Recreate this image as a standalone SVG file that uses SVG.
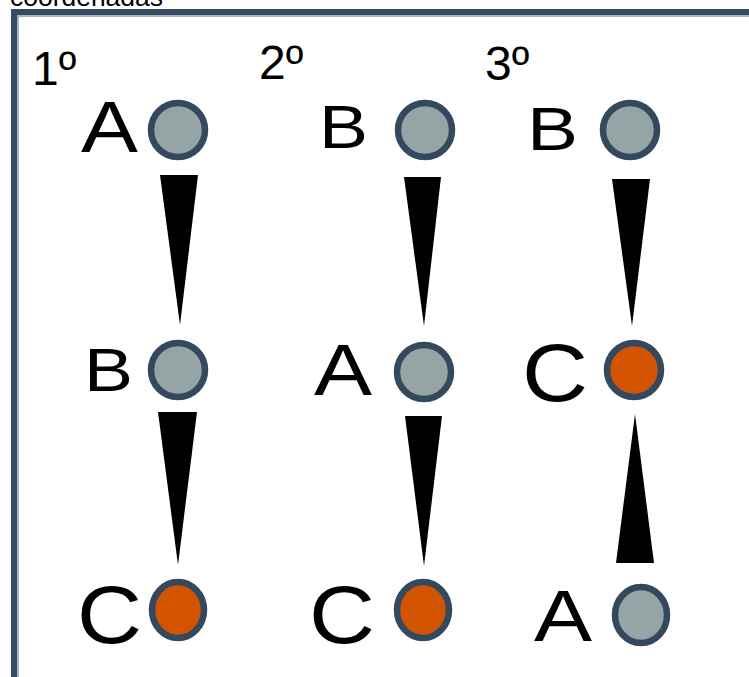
<svg xmlns="http://www.w3.org/2000/svg" width="749" height="677" viewBox="0 0 749 677">
  <style>
    .lbl { font-family: "Liberation Sans", Arial, sans-serif; fill: #000; }
    .gray { fill: #95a5a6; stroke: #34495e; stroke-width: 6.5; }
    .orange { fill: #d35400; stroke: #34495e; stroke-width: 6.5; }
    .edge { fill: #000; stroke: none; }
  </style>

  <rect x="0" y="0" width="749" height="677" fill="#ffffff"/>

  <!-- caption above the frame, partly hidden by the top edge -->
  <text class="lbl" x="10" y="6" font-size="26" textLength="153" lengthAdjust="spacingAndGlyphs">coordenadas</text>

  <!-- frame -->
  <g id="frame">
    <rect x="14" y="12" width="760" height="700" fill="none" stroke="#364b62" stroke-width="6"/>
    <rect x="18" y="16" width="760" height="700" fill="none" stroke="#a9b3c0" stroke-width="2"/>
  </g>

  <!-- step headings -->
  <g id="headings">
    <text class="lbl" x="32" y="85" font-size="48">1º</text>
    <text class="lbl" x="259" y="79" font-size="48">2º</text>
    <text class="lbl" x="485" y="80" font-size="48">3º</text>
  </g>

  <!-- connectors -->
  <g id="connectors">
    <polygon class="edge" points="160,175 198,175 180,325"/>
    <polygon class="edge" points="158,412 197,412 178,565"/>
    <polygon class="edge" points="404,177 441,177 424,326"/>
    <polygon class="edge" points="405,416 442,416 424,566"/>
    <polygon class="edge" points="612,179 650,179 632,326"/>
    <polygon class="edge" points="616,563 654,563 635,414"/>
  </g>

  <!-- column 1 -->
  <g id="c1-A">
    <text class="lbl" x="81" y="152" font-size="73" textLength="57" lengthAdjust="spacingAndGlyphs">A</text>
    <circle class="gray" cx="178" cy="130" r="27"/>
  </g>
  <g id="c1-B">
    <text class="lbl" x="84" y="391" font-size="62" textLength="49" lengthAdjust="spacingAndGlyphs">B</text>
    <circle class="gray" cx="178" cy="370" r="27"/>
  </g>
  <g id="c1-C">
    <text class="lbl" x="77" y="643" font-size="82" textLength="65" lengthAdjust="spacingAndGlyphs">C</text>
    <ellipse class="orange" cx="178" cy="610" rx="26" ry="28"/>
  </g>

  <!-- column 2 -->
  <g id="c2-B">
    <text class="lbl" x="319" y="148" font-size="62" textLength="49" lengthAdjust="spacingAndGlyphs">B</text>
    <circle class="gray" cx="425" cy="130" r="27"/>
  </g>
  <g id="c2-A">
    <text class="lbl" x="314" y="395" font-size="72" textLength="58" lengthAdjust="spacingAndGlyphs">A</text>
    <circle class="gray" cx="424" cy="372" r="27"/>
  </g>
  <g id="c2-C">
    <text class="lbl" x="309" y="643" font-size="82" textLength="66" lengthAdjust="spacingAndGlyphs">C</text>
    <ellipse class="orange" cx="423" cy="610" rx="26" ry="28"/>
  </g>

  <!-- column 3 -->
  <g id="c3-B">
    <text class="lbl" x="527" y="150" font-size="62" textLength="51" lengthAdjust="spacingAndGlyphs">B</text>
    <circle class="gray" cx="630" cy="130" r="27"/>
  </g>
  <g id="c3-C">
    <text class="lbl" x="522" y="401" font-size="82" textLength="66" lengthAdjust="spacingAndGlyphs">C</text>
    <circle class="orange" cx="634" cy="370" r="27"/>
  </g>
  <g id="c3-A">
    <text class="lbl" x="534" y="641" font-size="72" textLength="58" lengthAdjust="spacingAndGlyphs">A</text>
    <ellipse class="gray" cx="641" cy="615" rx="26" ry="28"/>
  </g>
</svg>
